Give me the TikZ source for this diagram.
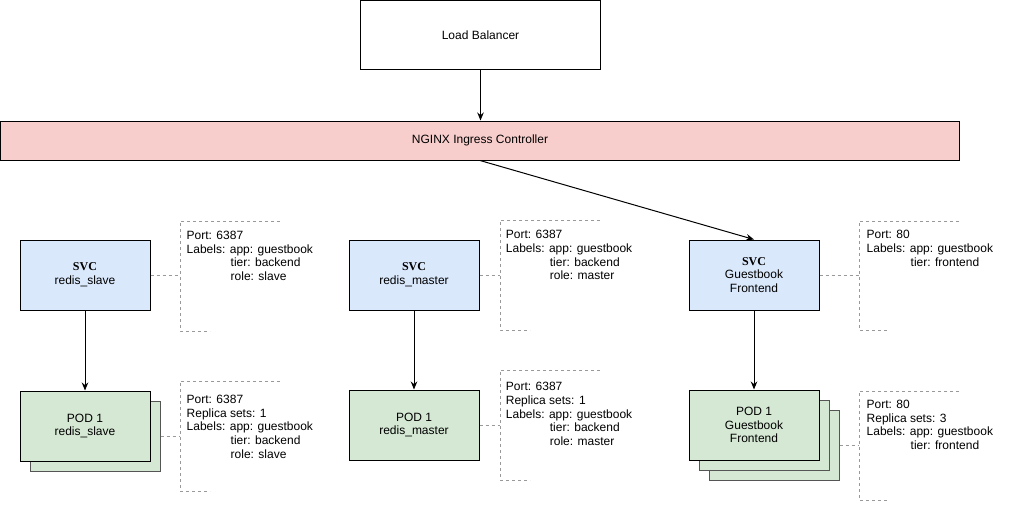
\documentclass[tikz,border=0pt]{standalone}
\usepackage{fontspec}
\setmainfont{Liberation Sans}
\newfontfamily\svcfont{Liberation Serif}
\usetikzlibrary{arrows.meta}
\definecolor{svcblue}{HTML}{DAE8FC}
\definecolor{podgreen}{HTML}{D5E8D4}
\definecolor{ngred}{HTML}{F8CECC}
\definecolor{backline}{HTML}{555555}
\definecolor{annot}{HTML}{999999}
\newcommand{\cont}{\hspace*{44pt}}
\begin{document}
\begin{tikzpicture}[x=1pt,y=-1pt,
  every node/.style={font=\fontsize{12}{13.8}\selectfont},
  box/.style={draw=black, line width=1pt, minimum width=130pt, minimum height=70pt, inner sep=0pt, align=center},
  svcbox/.style={box, fill=svcblue},
  podbox/.style={box, fill=podgreen},
  podback/.style={box, fill=podgreen, draw=backline},
  arr/.style={line width=1pt, -{Stealth[length=8pt,width=6.5pt]}},
  dashline/.style={draw=annot, line width=1pt, dash pattern=on 3pt off 3pt},
  annottext/.style={anchor=north west, align=left, inner sep=0pt}
]
\useasboundingbox (0,0) rectangle (1035,504);

% top
\node[draw=black, line width=1pt, fill=white, minimum width=240pt, minimum height=69pt, inner sep=0pt] (lb) at (480.5,35) {Load Balancer};
\node[draw=black, line width=1pt, fill=ngred, minimum width=959pt, minimum height=39pt, inner sep=0pt] (ng) at (480,140.5) {NGINX Ingress Controller};

% services
\node[svcbox] (svc1) at (85,275) {{\svcfont\bfseries SVC}\\redis\_slave};
\node[svcbox] (svc2) at (414,275) {{\svcfont\bfseries SVC}\\redis\_master};
\node[svcbox] (svc3) at (754,275) {{\svcfont\bfseries SVC}\\Guestbook\\Frontend};

% pods
\node[podback] (pod1b) at (95,436) {};
\node[podbox] (pod1) at (85,426) {POD 1\\redis\_slave};
\node[podbox] (pod2) at (414,425) {POD 1\\redis\_master};
\node[podback] (pod3c) at (774,445) {};
\node[podback] (pod3b) at (764,435) {};
\node[podbox] (pod3) at (754,425) {POD 1\\Guestbook\\Frontend};

% arrows
\draw[arr] (lb.south) -- (ng.north -| lb.south);
\draw[arr] (ng.south) -- (svc3.north);
\draw[arr] (svc1.south) -- (pod1.north);
\draw[arr] (svc2.south) -- (pod2.north);
\draw[arr] (svc3.south) -- (pod3.north);

% annotation brackets
\coordinate (a1) at (180,275);
\coordinate (a2) at (180,436);
\coordinate (a3) at (500,275);
\coordinate (a4) at (500,425);
\coordinate (a5) at (859,275);
\coordinate (a6) at (859,445);

\draw[dashline] (280,221) -- (180,221) -- (180,331) -- (210,331);
\draw[dashline] (280,381) -- (180,381) -- (180,491) -- (210,491);
\draw[dashline] (600,220) -- (500,220) -- (500,330) -- (530,330);
\draw[dashline] (600,370) -- (500,370) -- (500,480) -- (530,480);
\draw[dashline] (959,221) -- (859,221) -- (859,330) -- (889,330);
\draw[dashline] (959,391) -- (859,391) -- (859,500) -- (889,500);

\draw[dashline] (svc1.east) -- (a1);
\draw[dashline] (pod1b.east) -- (a2);
\draw[dashline] (svc2.east) -- (a3);
\draw[dashline] (pod2.east) -- (a4);
\draw[dashline] (svc3.east) -- (a5);
\draw[dashline] (pod3c.east) -- (a6);

% annotation texts
\node[annottext] (t1) at (186.5,230.7) {Port: 6387\\Labels: app: guestbook\\\cont tier: backend\\\cont role: slave};
\node[annottext] (t2) at (186.5,394.7) {Port: 6387\\Replica sets: 1\\Labels: app: guestbook\\\cont tier: backend\\\cont role: slave};
\node[annottext] (t3) at (505.7,229.9) {Port: 6387\\Labels: app: guestbook\\\cont tier: backend\\\cont role: master};
\node[annottext] (t4) at (505.7,381.9) {Port: 6387\\Replica sets: 1\\Labels: app: guestbook\\\cont tier: backend\\\cont role: master};
\node[annottext] (t5) at (866.5,229.9) {Port: 80\\Labels: app: guestbook\\\cont tier: frontend};
\node[annottext] (t6) at (866.5,399.7) {Port: 80\\Replica sets: 3\\Labels: app: guestbook\\\cont tier: frontend};
\end{tikzpicture}
\end{document}
